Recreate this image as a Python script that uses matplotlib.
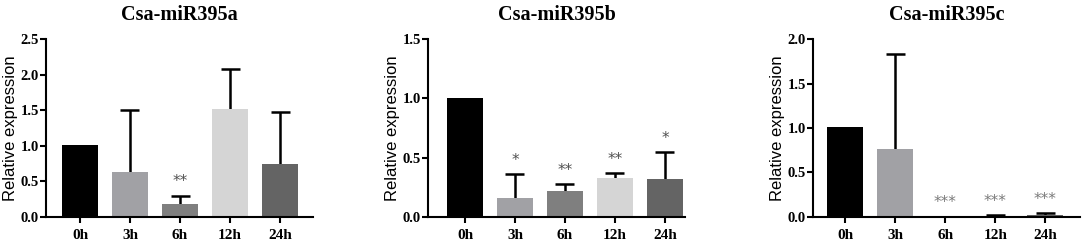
import matplotlib.pyplot as plt
import numpy as np

times = ["0h", "3h", "6h", "12h", "24h"]
bar_colors = ["#000000", "#a1a1a5", "#7f7f7f", "#d5d5d5", "#646464"]

titles = ["Csa-miR395a", "Csa-miR395b", "Csa-miR395c"]
means = [
    [1.01, 0.63, 0.18, 1.52, 0.74],
    [1.00, 0.16, 0.22, 0.33, 0.32],
    [1.01, 0.76, 0.01, 0.01, 0.02],
]
upper = [
    [1.01, 1.50, 0.30, 2.08, 1.48],
    [1.00, 0.36, 0.28, 0.37, 0.55],
    [1.01, 1.83, 0.01, 0.02, 0.04],
]
stars = [
    ["", "", "**", "", ""],
    ["", "*", "**", "**", "*"],
    ["", "", "***", "***", "***"],
]
ymax = [2.5, 1.5, 2.0]
yticks = [np.arange(0, 2.51, 0.5), np.arange(0, 1.51, 0.5), np.arange(0, 2.01, 0.5)]

# axes boxes in figure fractions, xlims in bar units
boxes = [
    [0.0424, 0.1143, 0.2464, 0.7265],
    [0.3948, 0.1143, 0.2371, 0.7265],
    [0.7500, 0.1143, 0.2463, 0.7265],
]
xlims = [(-0.68, 4.66), (-0.74, 4.40), (-0.65, 4.69)]
star_col = ["#505050", "#505050", "#7a7a7a"]

fig = plt.figure(figsize=(10.84, 2.45), dpi=100)
serif = "Liberation Serif"

for i in range(3):
    ax = fig.add_axes(boxes[i])
    x = np.arange(len(times))
    m = np.array(means[i])
    top = np.array(upper[i])
    ax.bar(x, m, width=0.72, color=bar_colors, zorder=2)
    has = top > m
    # upper-only error bars, stem hidden behind the bar
    ax.vlines(x[has], m[has], top[has], color="black", lw=1.8, zorder=1)
    ax.hlines(top[has], x[has] - 0.19, x[has] + 0.19, color="black", lw=1.8, zorder=1)
    for j, s in enumerate(stars[i]):
        if s:
            ax.text(x[j], upper[i][j] + ymax[i] * 0.035, s, ha="center", va="bottom",
                    fontsize=11, color=star_col[i], family="DejaVu Sans")
    ax.set_xlim(*xlims[i])
    ax.set_ylim(0, ymax[i])
    ax.set_yticks(yticks[i])
    ax.set_yticklabels([f"{v:.1f}" for v in yticks[i]], family=serif, fontweight="bold", fontsize=10.5)
    ax.set_xticks(x)
    ax.set_xticklabels(times, family=serif, fontweight="bold", fontsize=11)
    ax.tick_params(axis="x", length=4, width=1.5, pad=5)
    ax.tick_params(axis="y", length=4, width=1.5, pad=1)
    for sp in ["top", "right"]:
        ax.spines[sp].set_visible(False)
    for sp in ["left", "bottom"]:
        ax.spines[sp].set_linewidth(1.5)
    ax.set_ylabel("Relative expression", family="Liberation Sans", fontsize=12, labelpad=2)
    ax.set_title(titles[i], family=serif, fontweight="bold", fontsize=14.5, pad=14)

fig.savefig("out.png", dpi=100)
